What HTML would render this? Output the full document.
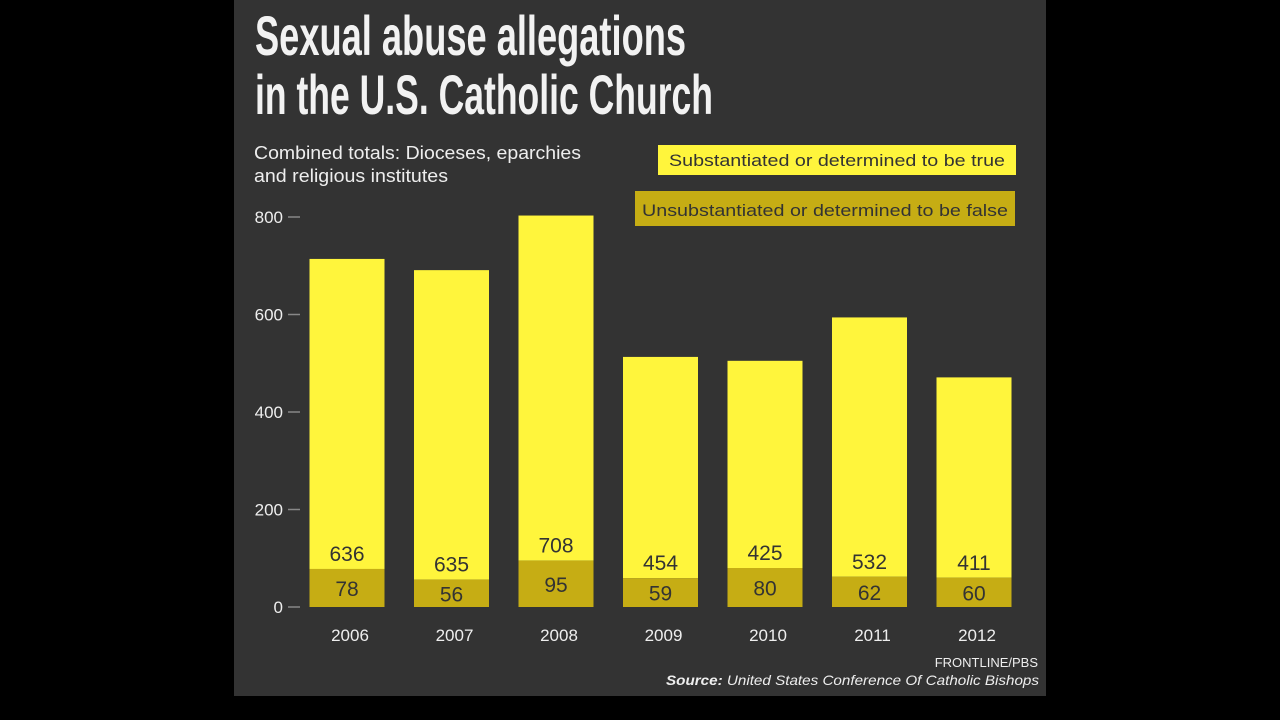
<!DOCTYPE html>
<html><head><meta charset="utf-8"><style>
html,body{margin:0;padding:0;background:#000;width:1280px;height:720px;overflow:hidden}
svg{display:block}
text{font-family:"Liberation Sans",sans-serif}
</style></head><body>
<svg id="chart" width="1280" height="720">
<rect x="0" y="0" width="1280" height="720" fill="#000"/>
<rect x="234" y="0" width="812" height="696" fill="#333333"/>
<text x="255" y="55" font-size="56" font-weight="bold" fill="#f2f2f2" textLength="431" lengthAdjust="spacingAndGlyphs" style="font-family:'Liberation Sans Narrow','Liberation Sans',sans-serif">Sexual abuse allegations</text>
<text x="255" y="114" font-size="56" font-weight="bold" fill="#f2f2f2" textLength="458" lengthAdjust="spacingAndGlyphs" style="font-family:'Liberation Sans Narrow','Liberation Sans',sans-serif">in the U.S. Catholic Church</text>
<text x="254" y="159" font-size="18" fill="#eeeeee" textLength="327" lengthAdjust="spacingAndGlyphs">Combined totals: Dioceses, eparchies</text>
<text x="254" y="182" font-size="18" fill="#eeeeee" textLength="194" lengthAdjust="spacingAndGlyphs">and religious institutes</text>
<g>
<rect x="658" y="145" width="358" height="30" fill="#fff53c"/>
<text x="837" y="166" font-size="17" fill="#333" text-anchor="middle" textLength="336" lengthAdjust="spacingAndGlyphs">Substantiated or determined to be true</text>
<rect x="635" y="191" width="380" height="35" fill="#c6ad14"/>
<text x="825" y="216" font-size="17" fill="#333" text-anchor="middle" textLength="366" lengthAdjust="spacingAndGlyphs">Unsubstantiated or determined to be false</text>
</g>
<g id="axis"></g>
<g id="bars"></g>
<text x="1038" y="667" font-size="13" fill="#eeeeee" text-anchor="end">FRONTLINE/PBS</text>
<text x="1039" y="685" font-size="14" fill="#eeeeee" text-anchor="end" font-style="italic" textLength="373" lengthAdjust="spacingAndGlyphs"><tspan font-weight="bold">Source:</tspan> United States Conference Of Catholic Bishops</text>
</svg>
<script>
const years = ["2006","2007","2008","2009","2010","2011","2012"];
const trueVals = [636,635,708,454,425,532,411];
const falseVals = [78,56,95,59,80,62,60];
const yTicks = [0,200,400,600,800];

const NS = "http://www.w3.org/2000/svg";
const y0 = 607, pxPer = 390/800;
function yScale(v){ return y0 - v*pxPer; }
function xCenter(i){ return 347 + i*104.5; }
const barW = 75;
function mk(tag, attrs, parent){ const e=document.createElementNS(NS,tag); for(const k in attrs) e.setAttribute(k,attrs[k]); parent.appendChild(e); return e; }
const axis = document.getElementById('axis');
yTicks.forEach(t=>{
  const y = yScale(t);
  const l = mk('line',{x1:288,x2:300,y1:y,y2:y,stroke:'#888','stroke-width':1.5},axis);
  
  
  const tx = mk('text',{x:283,y:y+6,'font-size':17,fill:'#eeeeee','text-anchor':'end'},axis);
  tx.textContent = t;
  
  
});
const bars = document.getElementById('bars');
years.forEach((yr,i)=>{
  const cx = xCenter(i), x = cx - barW/2;
  const fTop = yScale(falseVals[i]);
  const tTop = yScale(falseVals[i]+trueVals[i]);
  const rt = mk('rect',{x:x,y:tTop,width:barW,height:fTop-tTop,fill:'#fff53c'},bars);
  
  
  const rf = mk('rect',{x:x,y:fTop,width:barW,height:y0-fTop,fill:'#c6ad14'},bars);
  
  
  const lt = mk('text',{x:cx,y:fTop-8,'font-size':21,fill:'#333','text-anchor':'middle',style:"font-family:'Liberation Sans Narrow','Liberation Sans',sans-serif"},bars);
  lt.textContent = trueVals[i];
  
  
  const lf = mk('text',{x:cx,y:(fTop+y0)/2+8,'font-size':21,fill:'#333','text-anchor':'middle',style:"font-family:'Liberation Sans Narrow','Liberation Sans',sans-serif"},bars);
  lf.textContent = falseVals[i];
  
  
  const xl = mk('text',{x:cx+3,y:641,'font-size':17,fill:'#eeeeee','text-anchor':'middle'},bars);
  xl.textContent = yr;
  
  
});
</script>
</body></html>
